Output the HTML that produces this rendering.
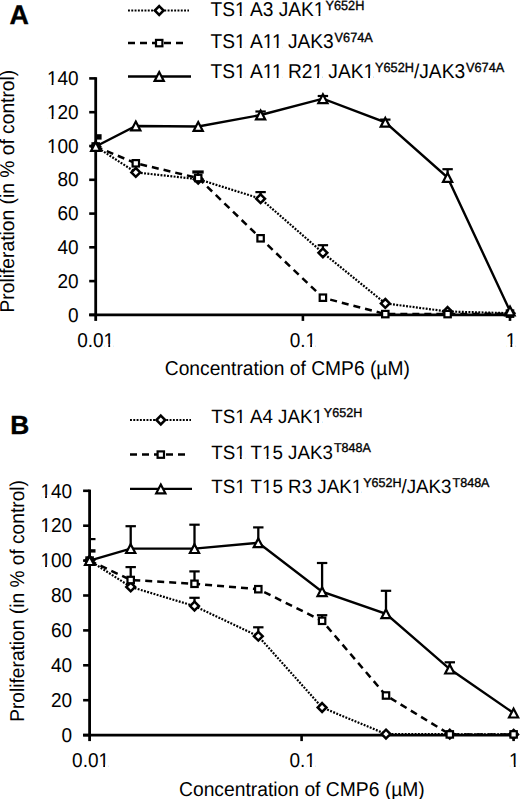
<!DOCTYPE html>
<html><head><meta charset="utf-8"><style>
html,body{margin:0;padding:0;background:#fff;}
svg{display:block;}
text{font-family:"Liberation Sans", sans-serif;font-size:20.0px;fill:#000;text-rendering:geometricPrecision;}
</style></head><body>
<svg width="520" height="799" viewBox="0 0 520 799">
<rect width="520" height="799" fill="#fff"/>
<text x="9.6" y="23.5" style="font-weight:bold;font-size:26.8px;stroke:#000;stroke-width:0.4px">A</text>
<text x="10.3" y="433.8" style="font-weight:bold;font-size:26.3px;stroke:#000;stroke-width:0.4px">B</text>
<line x1="95.7" y1="77.2" x2="95.7" y2="320.9" stroke="#000" stroke-width="2.8"/>
<line x1="89.2" y1="314.9" x2="511.5" y2="314.9" stroke="#000" stroke-width="2.8"/>
<line x1="89.2" y1="314.9" x2="95.7" y2="314.9" stroke="#000" stroke-width="2.6"/>
<text transform="translate(78.60,321.60) scale(0.95,1)" text-anchor="end">0</text>
<line x1="89.2" y1="281.1" x2="95.7" y2="281.1" stroke="#000" stroke-width="2.6"/>
<text transform="translate(78.60,287.82) scale(0.95,1)" text-anchor="end">20</text>
<line x1="89.2" y1="247.3" x2="95.7" y2="247.3" stroke="#000" stroke-width="2.6"/>
<text transform="translate(78.60,254.04) scale(0.95,1)" text-anchor="end">40</text>
<line x1="89.2" y1="213.6" x2="95.7" y2="213.6" stroke="#000" stroke-width="2.6"/>
<text transform="translate(78.60,220.26) scale(0.95,1)" text-anchor="end">60</text>
<line x1="89.2" y1="179.8" x2="95.7" y2="179.8" stroke="#000" stroke-width="2.6"/>
<text transform="translate(78.60,186.48) scale(0.95,1)" text-anchor="end">80</text>
<line x1="89.2" y1="146.0" x2="95.7" y2="146.0" stroke="#000" stroke-width="2.6"/>
<text transform="translate(78.60,152.70) scale(0.95,1)" text-anchor="end">100</text>
<line x1="89.2" y1="112.2" x2="95.7" y2="112.2" stroke="#000" stroke-width="2.6"/>
<text transform="translate(78.60,118.92) scale(0.95,1)" text-anchor="end">120</text>
<line x1="89.2" y1="78.4" x2="95.7" y2="78.4" stroke="#000" stroke-width="2.6"/>
<text transform="translate(78.60,85.14) scale(0.95,1)" text-anchor="end">140</text>
<line x1="302.9" y1="314.9" x2="302.9" y2="320.9" stroke="#000" stroke-width="2.6"/>
<line x1="510.0" y1="314.9" x2="510.0" y2="320.9" stroke="#000" stroke-width="2.6"/>
<text transform="translate(95.70,346.60) scale(0.95,1)" text-anchor="middle">0.01</text>
<text transform="translate(302.85,346.60) scale(0.95,1)" text-anchor="middle">0.1</text>
<text transform="translate(511.00,346.60) scale(0.95,1)" text-anchor="middle">1</text>
<polyline points="95.7,146.5 135.8,172.4 198.2,179.2 260.6,198.7 322.9,252.8 385.3,303.4 447.6,311.5 510.0,313.2" fill="none" stroke="#000" stroke-width="2.2" stroke-dasharray="1.9 1.4"/>
<polyline points="95.7,146.5 135.8,163.3 198.2,178.0 260.6,238.3 322.9,297.7 385.3,314.1 447.6,314.1 510.0,313.6" fill="none" stroke="#000" stroke-width="2.5" stroke-dasharray="7 5"/>
<polyline points="95.7,146.5 135.8,126.0 198.2,126.5 260.6,115.0 322.9,98.7 385.3,122.3 447.6,177.5 510.0,311.0" fill="none" stroke="#000" stroke-width="2.4" />
<line x1="260.6" y1="198.7" x2="260.6" y2="192.1" stroke="#000" stroke-width="2.3"/>
<line x1="255.4" y1="192.1" x2="265.8" y2="192.1" stroke="#000" stroke-width="2.2"/>
<line x1="322.9" y1="252.8" x2="322.9" y2="245.2" stroke="#000" stroke-width="2.3"/>
<line x1="317.7" y1="245.2" x2="328.1" y2="245.2" stroke="#000" stroke-width="2.2"/>
<line x1="260.6" y1="115.0" x2="260.6" y2="111.5" stroke="#000" stroke-width="2.3"/>
<line x1="255.4" y1="111.5" x2="265.8" y2="111.5" stroke="#000" stroke-width="2.2"/>
<line x1="322.9" y1="98.7" x2="322.9" y2="96.0" stroke="#000" stroke-width="2.3"/>
<line x1="317.7" y1="96.0" x2="328.1" y2="96.0" stroke="#000" stroke-width="2.2"/>
<line x1="385.3" y1="122.3" x2="385.3" y2="119.6" stroke="#000" stroke-width="2.3"/>
<line x1="380.1" y1="119.6" x2="390.5" y2="119.6" stroke="#000" stroke-width="2.2"/>
<line x1="447.6" y1="177.5" x2="447.6" y2="169.2" stroke="#000" stroke-width="2.3"/>
<line x1="442.4" y1="169.2" x2="452.8" y2="169.2" stroke="#000" stroke-width="2.2"/>
<path d="M95.7 142.1L100.1 146.5L95.7 150.9L91.3 146.5Z" fill="#fff" stroke="#000" stroke-width="2.5"/>
<path d="M135.8 168.0L140.2 172.4L135.8 176.8L131.4 172.4Z" fill="#fff" stroke="#000" stroke-width="2.5"/>
<path d="M198.2 174.8L202.6 179.2L198.2 183.6L193.8 179.2Z" fill="#fff" stroke="#000" stroke-width="2.5"/>
<path d="M260.6 194.3L265.0 198.7L260.6 203.1L256.2 198.7Z" fill="#fff" stroke="#000" stroke-width="2.5"/>
<path d="M322.9 248.4L327.3 252.8L322.9 257.2L318.5 252.8Z" fill="#fff" stroke="#000" stroke-width="2.5"/>
<path d="M385.3 299.0L389.7 303.4L385.3 307.8L380.9 303.4Z" fill="#fff" stroke="#000" stroke-width="2.5"/>
<path d="M447.6 307.1L452.0 311.5L447.6 315.9L443.2 311.5Z" fill="#fff" stroke="#000" stroke-width="2.5"/>
<path d="M510.0 308.8L514.4 313.2L510.0 317.6L505.6 313.2Z" fill="#fff" stroke="#000" stroke-width="2.5"/>
<rect x="92.5" y="143.3" width="6.4" height="6.4" fill="#fff" stroke="#000" stroke-width="2.2"/>
<rect x="132.6" y="160.1" width="6.4" height="6.4" fill="#fff" stroke="#000" stroke-width="2.2"/>
<rect x="195.0" y="174.8" width="6.4" height="6.4" fill="#fff" stroke="#000" stroke-width="2.2"/>
<rect x="257.4" y="235.1" width="6.4" height="6.4" fill="#fff" stroke="#000" stroke-width="2.2"/>
<rect x="319.7" y="294.5" width="6.4" height="6.4" fill="#fff" stroke="#000" stroke-width="2.2"/>
<rect x="382.1" y="310.9" width="6.4" height="6.4" fill="#fff" stroke="#000" stroke-width="2.2"/>
<rect x="444.4" y="310.9" width="6.4" height="6.4" fill="#fff" stroke="#000" stroke-width="2.2"/>
<rect x="506.8" y="310.4" width="6.4" height="6.4" fill="#fff" stroke="#000" stroke-width="2.2"/>
<path d="M95.7 142.1L100.3 150.9L91.1 150.9Z" fill="#fff" stroke="#000" stroke-width="2.2" stroke-linejoin="miter"/>
<path d="M135.8 121.6L140.4 130.4L131.2 130.4Z" fill="#fff" stroke="#000" stroke-width="2.2" stroke-linejoin="miter"/>
<path d="M198.2 122.1L202.8 130.9L193.6 130.9Z" fill="#fff" stroke="#000" stroke-width="2.2" stroke-linejoin="miter"/>
<path d="M260.6 110.6L265.2 119.4L256.0 119.4Z" fill="#fff" stroke="#000" stroke-width="2.2" stroke-linejoin="miter"/>
<path d="M322.9 94.3L327.5 103.1L318.3 103.1Z" fill="#fff" stroke="#000" stroke-width="2.2" stroke-linejoin="miter"/>
<path d="M385.3 117.9L389.9 126.7L380.7 126.7Z" fill="#fff" stroke="#000" stroke-width="2.2" stroke-linejoin="miter"/>
<path d="M447.6 173.1L452.2 181.9L443.0 181.9Z" fill="#fff" stroke="#000" stroke-width="2.2" stroke-linejoin="miter"/>
<path d="M510.0 306.6L514.6 315.4L505.4 315.4Z" fill="#fff" stroke="#000" stroke-width="2.2" stroke-linejoin="miter"/>
<line x1="89.6" y1="489.6" x2="89.6" y2="741.1" stroke="#000" stroke-width="2.8"/>
<line x1="83.1" y1="735.1" x2="515.1" y2="735.1" stroke="#000" stroke-width="2.8"/>
<line x1="83.1" y1="735.1" x2="89.6" y2="735.1" stroke="#000" stroke-width="2.6"/>
<text transform="translate(72.10,741.80) scale(0.95,1)" text-anchor="end">0</text>
<line x1="83.1" y1="700.2" x2="89.6" y2="700.2" stroke="#000" stroke-width="2.6"/>
<text transform="translate(72.10,706.90) scale(0.95,1)" text-anchor="end">20</text>
<line x1="83.1" y1="665.3" x2="89.6" y2="665.3" stroke="#000" stroke-width="2.6"/>
<text transform="translate(72.10,672.00) scale(0.95,1)" text-anchor="end">40</text>
<line x1="83.1" y1="630.4" x2="89.6" y2="630.4" stroke="#000" stroke-width="2.6"/>
<text transform="translate(72.10,637.10) scale(0.95,1)" text-anchor="end">60</text>
<line x1="83.1" y1="595.5" x2="89.6" y2="595.5" stroke="#000" stroke-width="2.6"/>
<text transform="translate(72.10,602.20) scale(0.95,1)" text-anchor="end">80</text>
<line x1="83.1" y1="560.6" x2="89.6" y2="560.6" stroke="#000" stroke-width="2.6"/>
<text transform="translate(72.10,567.30) scale(0.95,1)" text-anchor="end">100</text>
<line x1="83.1" y1="525.7" x2="89.6" y2="525.7" stroke="#000" stroke-width="2.6"/>
<text transform="translate(72.10,532.40) scale(0.95,1)" text-anchor="end">120</text>
<line x1="83.1" y1="490.8" x2="89.6" y2="490.8" stroke="#000" stroke-width="2.6"/>
<text transform="translate(72.10,497.50) scale(0.95,1)" text-anchor="end">140</text>
<line x1="301.6" y1="735.1" x2="301.6" y2="741.1" stroke="#000" stroke-width="2.6"/>
<line x1="513.6" y1="735.1" x2="513.6" y2="741.1" stroke="#000" stroke-width="2.6"/>
<text transform="translate(90.60,767.10) scale(0.95,1)" text-anchor="middle">0.01</text>
<text transform="translate(302.60,767.10) scale(0.95,1)" text-anchor="middle">0.1</text>
<text transform="translate(514.40,767.10) scale(0.95,1)" text-anchor="middle">1</text>
<polyline points="89.6,560.6 130.7,586.9 194.5,606.1 258.3,636.2 322.1,707.5 386.0,734.1 449.8,734.2 513.6,734.4" fill="none" stroke="#000" stroke-width="2.2" stroke-dasharray="1.9 1.4"/>
<polyline points="89.6,560.6 130.7,580.0 194.5,583.8 258.3,589.2 322.1,620.8 386.0,695.5 449.8,734.4 513.6,734.4" fill="none" stroke="#000" stroke-width="2.5" stroke-dasharray="7 5"/>
<polyline points="89.6,560.6 130.7,548.6 194.5,548.6 258.3,542.8 322.1,591.7 386.0,613.8 449.8,669.1 513.6,713.1" fill="none" stroke="#000" stroke-width="2.4" />
<line x1="194.5" y1="606.1" x2="194.5" y2="597.8" stroke="#000" stroke-width="2.3"/>
<line x1="189.3" y1="597.8" x2="199.7" y2="597.8" stroke="#000" stroke-width="2.2"/>
<line x1="258.3" y1="636.2" x2="258.3" y2="627.3" stroke="#000" stroke-width="2.3"/>
<line x1="253.1" y1="627.3" x2="263.5" y2="627.3" stroke="#000" stroke-width="2.2"/>
<line x1="130.7" y1="580.0" x2="130.7" y2="567.1" stroke="#000" stroke-width="2.3"/>
<line x1="125.5" y1="567.1" x2="135.9" y2="567.1" stroke="#000" stroke-width="2.2"/>
<line x1="194.5" y1="583.8" x2="194.5" y2="571.4" stroke="#000" stroke-width="2.3"/>
<line x1="189.3" y1="571.4" x2="199.7" y2="571.4" stroke="#000" stroke-width="2.2"/>
<line x1="322.1" y1="620.8" x2="322.1" y2="615.2" stroke="#000" stroke-width="2.3"/>
<line x1="316.9" y1="615.2" x2="327.3" y2="615.2" stroke="#000" stroke-width="2.2"/>
<line x1="130.7" y1="548.6" x2="130.7" y2="526.2" stroke="#000" stroke-width="2.3"/>
<line x1="125.5" y1="526.2" x2="135.9" y2="526.2" stroke="#000" stroke-width="2.2"/>
<line x1="194.5" y1="548.6" x2="194.5" y2="524.7" stroke="#000" stroke-width="2.3"/>
<line x1="189.3" y1="524.7" x2="199.7" y2="524.7" stroke="#000" stroke-width="2.2"/>
<line x1="258.3" y1="542.8" x2="258.3" y2="527.4" stroke="#000" stroke-width="2.3"/>
<line x1="253.1" y1="527.4" x2="263.5" y2="527.4" stroke="#000" stroke-width="2.2"/>
<line x1="322.1" y1="591.7" x2="322.1" y2="563.0" stroke="#000" stroke-width="2.3"/>
<line x1="316.9" y1="563.0" x2="327.3" y2="563.0" stroke="#000" stroke-width="2.2"/>
<line x1="386.0" y1="613.8" x2="386.0" y2="590.8" stroke="#000" stroke-width="2.3"/>
<line x1="380.8" y1="590.8" x2="391.2" y2="590.8" stroke="#000" stroke-width="2.2"/>
<line x1="449.8" y1="669.1" x2="449.8" y2="662.3" stroke="#000" stroke-width="2.3"/>
<line x1="444.6" y1="662.3" x2="455.0" y2="662.3" stroke="#000" stroke-width="2.2"/>
<path d="M89.6 556.2L94.0 560.6L89.6 565.0L85.2 560.6Z" fill="#fff" stroke="#000" stroke-width="2.5"/>
<path d="M130.7 582.5L135.1 586.9L130.7 591.3L126.3 586.9Z" fill="#fff" stroke="#000" stroke-width="2.5"/>
<path d="M194.5 601.7L198.9 606.1L194.5 610.5L190.1 606.1Z" fill="#fff" stroke="#000" stroke-width="2.5"/>
<path d="M258.3 631.8L262.7 636.2L258.3 640.6L253.9 636.2Z" fill="#fff" stroke="#000" stroke-width="2.5"/>
<path d="M322.1 703.1L326.5 707.5L322.1 711.9L317.7 707.5Z" fill="#fff" stroke="#000" stroke-width="2.5"/>
<path d="M386.0 729.7L390.4 734.1L386.0 738.5L381.6 734.1Z" fill="#fff" stroke="#000" stroke-width="2.5"/>
<path d="M449.8 729.8L454.2 734.2L449.8 738.6L445.4 734.2Z" fill="#fff" stroke="#000" stroke-width="2.5"/>
<path d="M513.6 730.0L518.0 734.4L513.6 738.8L509.2 734.4Z" fill="#fff" stroke="#000" stroke-width="2.5"/>
<rect x="86.4" y="557.4" width="6.4" height="6.4" fill="#fff" stroke="#000" stroke-width="2.2"/>
<rect x="127.5" y="576.8" width="6.4" height="6.4" fill="#fff" stroke="#000" stroke-width="2.2"/>
<rect x="191.3" y="580.6" width="6.4" height="6.4" fill="#fff" stroke="#000" stroke-width="2.2"/>
<rect x="255.1" y="586.0" width="6.4" height="6.4" fill="#fff" stroke="#000" stroke-width="2.2"/>
<rect x="318.9" y="617.6" width="6.4" height="6.4" fill="#fff" stroke="#000" stroke-width="2.2"/>
<rect x="382.8" y="692.3" width="6.4" height="6.4" fill="#fff" stroke="#000" stroke-width="2.2"/>
<rect x="446.6" y="731.2" width="6.4" height="6.4" fill="#fff" stroke="#000" stroke-width="2.2"/>
<rect x="510.4" y="731.2" width="6.4" height="6.4" fill="#fff" stroke="#000" stroke-width="2.2"/>
<path d="M89.6 556.2L94.2 565.0L85.0 565.0Z" fill="#fff" stroke="#000" stroke-width="2.2" stroke-linejoin="miter"/>
<path d="M130.7 544.2L135.3 553.0L126.1 553.0Z" fill="#fff" stroke="#000" stroke-width="2.2" stroke-linejoin="miter"/>
<path d="M194.5 544.2L199.1 553.0L189.9 553.0Z" fill="#fff" stroke="#000" stroke-width="2.2" stroke-linejoin="miter"/>
<path d="M258.3 538.4L262.9 547.2L253.7 547.2Z" fill="#fff" stroke="#000" stroke-width="2.2" stroke-linejoin="miter"/>
<path d="M322.1 587.3L326.7 596.1L317.5 596.1Z" fill="#fff" stroke="#000" stroke-width="2.2" stroke-linejoin="miter"/>
<path d="M386.0 609.4L390.6 618.2L381.4 618.2Z" fill="#fff" stroke="#000" stroke-width="2.2" stroke-linejoin="miter"/>
<path d="M449.8 664.7L454.4 673.5L445.2 673.5Z" fill="#fff" stroke="#000" stroke-width="2.2" stroke-linejoin="miter"/>
<path d="M513.6 708.7L518.2 717.5L509.0 717.5Z" fill="#fff" stroke="#000" stroke-width="2.2" stroke-linejoin="miter"/>
<rect x="96" y="134.2" width="5.6" height="5.4" fill="#000"/>
<rect x="192.3" y="170.4" width="11.4" height="3.2" fill="#000"/>
<line x1="198" y1="172" x2="198" y2="176" stroke="#000" stroke-width="2"/>
<line x1="89.6" y1="539.1" x2="95.5" y2="539.1" stroke="#000" stroke-width="2.2"/>
<rect x="89.6" y="549.2" width="5.9" height="3.4" fill="#000"/>
<line x1="128" y1="10.5" x2="189" y2="10.5" stroke="#000" stroke-width="2.2" stroke-dasharray="1.9 1.4"/>
<path d="M159.2 6.1L163.6 10.5L159.2 14.9L154.8 10.5Z" fill="#fff" stroke="#000" stroke-width="2.5"/>
<text transform="translate(210.60,15.80) scale(0.957,1)" style="font-size:20.0px"><tspan y="0">TS1 A3 JAK1</tspan><tspan y="-6.3" dx="1" style="font-size:13.3px;stroke:#000;stroke-width:0.35px">Y652H</tspan></text>
<line x1="128" y1="43.1" x2="184" y2="43.1" stroke="#000" stroke-width="2.5" stroke-dasharray="7 5"/>
<rect x="156.0" y="39.9" width="6.4" height="6.4" fill="#fff" stroke="#000" stroke-width="2.2"/>
<text transform="translate(210.60,48.30) scale(0.957,1)" style="font-size:20.0px"><tspan y="0">TS1 A11 JAK3</tspan><tspan y="-6.3" dx="1" style="font-size:13.3px;stroke:#000;stroke-width:0.35px">V674A</tspan></text>
<line x1="128" y1="76.5" x2="191" y2="76.5" stroke="#000" stroke-width="2.4" />
<path d="M159.2 72.1L163.8 80.9L154.6 80.9Z" fill="#fff" stroke="#000" stroke-width="2.2" stroke-linejoin="miter"/>
<text transform="translate(210.60,78.30) scale(0.957,1)" style="font-size:20.0px"><tspan y="0">TS1 A11 R21 JAK1</tspan><tspan y="-6.3" dx="1" style="font-size:13.3px;stroke:#000;stroke-width:0.35px">Y652H</tspan><tspan y="0">/JAK3</tspan><tspan y="-6.3" dx="1" style="font-size:13.3px;stroke:#000;stroke-width:0.35px">V674A</tspan></text>
<line x1="130" y1="420.0" x2="191" y2="420.0" stroke="#000" stroke-width="2.2" stroke-dasharray="1.9 1.4"/>
<path d="M160.8 415.6L165.2 420.0L160.8 424.4L156.4 420.0Z" fill="#fff" stroke="#000" stroke-width="2.5"/>
<text transform="translate(211.30,423.20) scale(0.973,1)" style="font-size:19.3px"><tspan y="0">TS1 A4 JAK1</tspan><tspan y="-6.3" dx="1" style="font-size:12.9px;stroke:#000;stroke-width:0.35px">Y652H</tspan></text>
<line x1="130" y1="454.6" x2="186" y2="454.6" stroke="#000" stroke-width="2.5" stroke-dasharray="7 5"/>
<rect x="157.6" y="451.4" width="6.4" height="6.4" fill="#fff" stroke="#000" stroke-width="2.2"/>
<text transform="translate(211.30,458.60) scale(0.973,1)" style="font-size:19.3px"><tspan y="0">TS1 T15 JAK3</tspan><tspan y="-6.3" dx="1" style="font-size:12.9px;stroke:#000;stroke-width:0.35px">T848A</tspan></text>
<line x1="130" y1="488.9" x2="192" y2="488.9" stroke="#000" stroke-width="2.4" />
<path d="M160.8 484.5L165.4 493.3L156.2 493.3Z" fill="#fff" stroke="#000" stroke-width="2.2" stroke-linejoin="miter"/>
<text transform="translate(211.30,493.00) scale(0.973,1)" style="font-size:19.3px"><tspan y="0">TS1 T15 R3 JAK1</tspan><tspan y="-6.3" dx="1" style="font-size:12.9px;stroke:#000;stroke-width:0.35px">Y652H</tspan><tspan y="0">/JAK3</tspan><tspan y="-6.3" dx="1" style="font-size:12.9px;stroke:#000;stroke-width:0.35px">T848A</tspan></text>
<text transform="translate(164.80,374.50) scale(0.961,1)">Concentration of CMP6 (µM)</text>
<text transform="translate(179.00,795.50) scale(0.964,1)">Concentration of CMP6 (µM)</text>
<text transform="translate(14.20,312.50) rotate(-90) scale(0.962,1)">Proliferation (in % of control)</text>
<text transform="translate(23.60,721.80) rotate(-90) scale(0.958,1)">Proliferation (in % of control)</text>
<path d="M47.87 150.21L51.61 150.21L51.61 153.70L47.87 153.70Z" fill="#fff"/>
<path d="M53.42 150.21L57.01 150.21L57.01 153.70L53.42 153.70Z" fill="#fff"/>
<path d="M47.87 116.43L51.61 116.43L51.61 119.92L47.87 119.92Z" fill="#fff"/>
<path d="M53.42 116.43L57.01 116.43L57.01 119.92L53.42 119.92Z" fill="#fff"/>
<path d="M47.87 82.65L51.61 82.65L51.61 86.14L47.87 86.14Z" fill="#fff"/>
<path d="M53.42 82.65L57.01 82.65L57.01 86.14L53.42 86.14Z" fill="#fff"/>
<path d="M104.58 344.11L108.32 344.11L108.32 347.60L104.58 347.60Z" fill="#fff"/>
<path d="M110.13 344.11L113.73 344.11L113.73 347.60L110.13 347.60Z" fill="#fff"/>
<path d="M306.45 344.11L310.19 344.11L310.19 347.60L306.45 347.60Z" fill="#fff"/>
<path d="M312.00 344.11L315.59 344.11L315.59 347.60L312.00 347.60Z" fill="#fff"/>
<path d="M506.69 344.11L510.43 344.11L510.43 347.60L506.69 347.60Z" fill="#fff"/>
<path d="M512.24 344.11L515.83 344.11L515.83 347.60L512.24 347.60Z" fill="#fff"/>
<path d="M41.37 564.81L45.11 564.81L45.11 568.30L41.37 568.30Z" fill="#fff"/>
<path d="M46.92 564.81L50.51 564.81L50.51 568.30L46.92 568.30Z" fill="#fff"/>
<path d="M41.37 529.91L45.11 529.91L45.11 533.40L41.37 533.40Z" fill="#fff"/>
<path d="M46.92 529.91L50.51 529.91L50.51 533.40L46.92 533.40Z" fill="#fff"/>
<path d="M41.37 495.01L45.11 495.01L45.11 498.50L41.37 498.50Z" fill="#fff"/>
<path d="M46.92 495.01L50.51 495.01L50.51 498.50L46.92 498.50Z" fill="#fff"/>
<path d="M99.48 764.61L103.22 764.61L103.22 768.10L99.48 768.10Z" fill="#fff"/>
<path d="M105.03 764.61L108.63 764.61L108.63 768.10L105.03 768.10Z" fill="#fff"/>
<path d="M306.20 764.61L309.94 764.61L309.94 768.10L306.20 768.10Z" fill="#fff"/>
<path d="M311.75 764.61L315.34 764.61L315.34 768.10L311.75 768.10Z" fill="#fff"/>
<path d="M510.09 764.61L513.83 764.61L513.83 768.10L510.09 768.10Z" fill="#fff"/>
<path d="M515.64 764.61L519.23 764.61L519.23 768.10L515.64 768.10Z" fill="#fff"/>
<path d="M236.03 13.31L239.80 13.31L239.80 16.80L236.03 16.80Z" fill="#fff"/>
<path d="M241.62 13.31L245.24 13.31L245.24 16.80L241.62 16.80Z" fill="#fff"/>
<path d="M314.77 13.31L318.54 13.31L318.54 16.80L314.77 16.80Z" fill="#fff"/>
<path d="M320.36 13.31L323.98 13.31L323.98 16.80L320.36 16.80Z" fill="#fff"/>
<path d="M236.03 45.81L239.80 45.81L239.80 49.30L236.03 49.30Z" fill="#fff"/>
<path d="M241.62 45.81L245.24 45.81L245.24 49.30L241.62 49.30Z" fill="#fff"/>
<path d="M263.71 45.81L267.47 45.81L267.47 49.30L263.71 49.30Z" fill="#fff"/>
<path d="M269.30 45.81L272.92 45.81L272.92 49.30L269.30 49.30Z" fill="#fff"/>
<path d="M272.93 45.81L276.70 45.81L276.70 49.30L272.93 49.30Z" fill="#fff"/>
<path d="M278.52 45.81L282.14 45.81L282.14 49.30L278.52 49.30Z" fill="#fff"/>
<path d="M236.03 75.81L239.80 75.81L239.80 79.30L236.03 79.30Z" fill="#fff"/>
<path d="M241.62 75.81L245.24 75.81L245.24 79.30L241.62 79.30Z" fill="#fff"/>
<path d="M263.71 75.81L267.47 75.81L267.47 79.30L263.71 79.30Z" fill="#fff"/>
<path d="M269.30 75.81L272.92 75.81L272.92 79.30L269.30 79.30Z" fill="#fff"/>
<path d="M272.93 75.81L276.70 75.81L276.70 79.30L272.93 79.30Z" fill="#fff"/>
<path d="M278.52 75.81L282.14 75.81L282.14 79.30L278.52 79.30Z" fill="#fff"/>
<path d="M313.35 75.81L317.12 75.81L317.12 79.30L313.35 79.30Z" fill="#fff"/>
<path d="M318.94 75.81L322.56 75.81L322.56 79.30L318.94 79.30Z" fill="#fff"/>
<path d="M364.42 75.81L368.18 75.81L368.18 79.30L364.42 79.30Z" fill="#fff"/>
<path d="M370.01 75.81L373.62 75.81L373.62 79.30L370.01 79.30Z" fill="#fff"/>
<path d="M236.20 420.76L239.92 420.76L239.92 424.20L236.20 424.20Z" fill="#fff"/>
<path d="M241.71 420.76L245.27 420.76L245.27 424.20L241.71 424.20Z" fill="#fff"/>
<path d="M313.39 420.76L317.10 420.76L317.10 424.20L313.39 424.20Z" fill="#fff"/>
<path d="M318.89 420.76L322.46 420.76L322.46 424.20L318.89 424.20Z" fill="#fff"/>
<path d="M236.20 456.16L239.92 456.16L239.92 459.60L236.20 459.60Z" fill="#fff"/>
<path d="M241.71 456.16L245.27 456.16L245.27 459.60L241.71 459.60Z" fill="#fff"/>
<path d="M262.98 456.16L266.69 456.16L266.69 459.60L262.98 459.60Z" fill="#fff"/>
<path d="M268.48 456.16L272.05 456.16L272.05 459.60L268.48 459.60Z" fill="#fff"/>
<path d="M236.20 490.56L239.92 490.56L239.92 494.00L236.20 494.00Z" fill="#fff"/>
<path d="M241.71 490.56L245.27 490.56L245.27 494.00L241.71 494.00Z" fill="#fff"/>
<path d="M262.98 490.56L266.69 490.56L266.69 494.00L262.98 494.00Z" fill="#fff"/>
<path d="M268.48 490.56L272.05 490.56L272.05 494.00L268.48 494.00Z" fill="#fff"/>
<path d="M352.66 490.56L356.37 490.56L356.37 494.00L352.66 494.00Z" fill="#fff"/>
<path d="M358.16 490.56L361.73 490.56L361.73 494.00L358.16 494.00Z" fill="#fff"/>
</svg>
</body></html>
